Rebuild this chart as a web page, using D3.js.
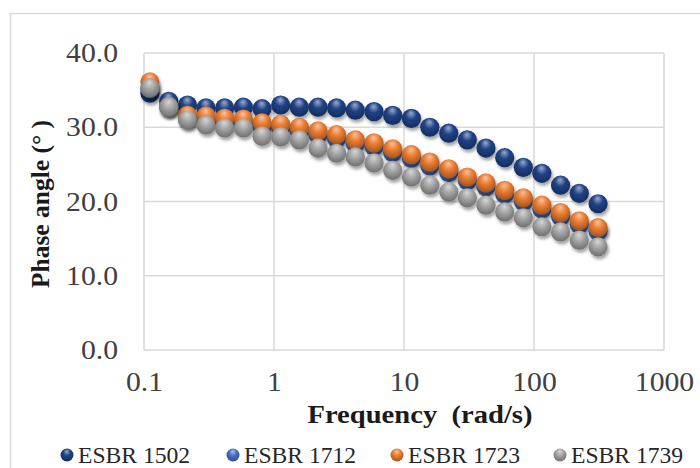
<!DOCTYPE html>
<html>
<head>
<meta charset="utf-8">
<script src="https://cdn.jsdelivr.net/npm/d3@7"></script>
<style>
  body { margin: 0; background: #fff; }
  svg { display: block; font-family: "Liberation Serif", "Times New Roman", serif; }
</style>
</head>
<body>
<div id="chart"></div>
<script>
// frequencies (rad/s)
var freq = [0.111, 0.155, 0.216, 0.300, 0.417, 0.581, 0.809, 1.125, 1.566, 2.18,
            3.03, 4.22, 5.88, 8.18, 11.4, 15.8, 22.1, 30.7, 42.7, 59.5,
            82.8, 115, 160, 223, 311];

var esbr1502 = [34.6, 33.5, 33.0, 32.6, 32.6, 32.7, 32.5, 33.0, 32.7, 32.7,
                32.6, 32.3, 32.1, 31.6, 31.2, 30.0, 29.2, 28.3, 27.2, 25.9,
                24.6, 23.8, 22.2, 21.1, 19.7];
var esbr1712 = [35.2, 32.8, 31.2, 31.0, 30.7, 30.6, 30.1, 29.9, 29.5, 29.0,
                28.5, 27.8, 27.4, 26.6, 25.8, 24.8, 23.9, 22.8, 22.0, 21.0,
                20.0, 19.0, 18.0, 16.9, 16.0];
var esbr1723 = [36.1, 32.8, 31.6, 31.5, 31.2, 31.1, 30.6, 30.4, 30.0, 29.5,
                29.0, 28.3, 27.9, 27.1, 26.3, 25.3, 24.4, 23.3, 22.5, 21.5,
                20.5, 19.5, 18.5, 17.4, 16.5];
var esbr1739 = [35.3, 32.7, 31.0, 30.3, 29.9, 29.9, 28.8, 28.7, 28.3, 27.2,
                26.5, 26.0, 25.2, 24.2, 23.3, 22.2, 21.3, 20.5, 19.5, 18.6,
                17.8, 16.6, 15.9, 14.8, 13.9];

var seriesNames = ["ESBR 1502", "ESBR 1712", "ESBR 1723", "ESBR 1739"];
var seriesValues = [esbr1502, esbr1712, esbr1723, esbr1739];
var seriesColors = ["#1f4287", "#4472c4", "#ed7d31", "#a5a5a5"];

var xTicks = [0.1, 1, 10, 100, 1000];
var yTicks = [0, 10, 20, 30, 40];

var W = 700, H = 468;
var margin = {top: 53, right: 36, bottom: 118, left: 144};
var width = 664 - margin.left, height = 350 - margin.top;
var stretch = 1.1; // the source picture is a little wider than tall

var svg = d3.select("#chart").append("svg")
    .attr("width", W)
    .attr("height", H);

// outer chart border (runs off the right and bottom edge)
svg.append("rect")
    .attr("x", 10.5).attr("y", 13.5)
    .attr("width", 720).attr("height", 480)
    .attr("fill", "none")
    .attr("stroke", "#d9d9d9")
    .attr("stroke-width", 1.5);

var defs = svg.append("defs");

var shadow = defs.append("filter").attr("id", "shadow")
    .attr("x", "-50%").attr("y", "-50%").attr("width", "200%").attr("height", "200%");
shadow.append("feDropShadow")
    .attr("dx", 1.5).attr("dy", 3).attr("stdDeviation", 1.8)
    .attr("flood-color", "#000").attr("flood-opacity", 0.35);

seriesColors.forEach(function(col, i) {
    var g = defs.append("radialGradient")
        .attr("id", "ball" + i)
        .attr("cx", "50%").attr("cy", "38%").attr("r", "62%")
        .attr("fx", "48%").attr("fy", "22%");
    var c = d3.color(col);
    g.append("stop").attr("offset", "0%").attr("stop-color", d3.interpolateRgb(col, "#fff")(0.55));
    g.append("stop").attr("offset", "45%").attr("stop-color", col);
    g.append("stop").attr("offset", "100%").attr("stop-color", c.darker(1.1));
});

var plot = svg.append("g")
    .attr("transform", "translate(" + margin.left + "," + margin.top + ")");

var x = d3.scaleLog().domain([0.1, 1000]).range([0, width]);
var y = d3.scaleLinear().domain([0, 40]).range([height, 0]);

// gridlines
plot.append("g").selectAll("line.h")
    .data(yTicks).enter().append("line")
    .attr("x1", 0).attr("x2", width)
    .attr("y1", function(d){ return y(d); })
    .attr("y2", function(d){ return y(d); })
    .attr("stroke", "#d9d9d9").attr("stroke-width", 1.5);

plot.append("g").selectAll("line.v")
    .data(xTicks).enter().append("line")
    .attr("y1", 0).attr("y2", height)
    .attr("x1", function(d){ return x(d); })
    .attr("x2", function(d){ return x(d); })
    .attr("stroke", "#d9d9d9").attr("stroke-width", 1.5);

// axes (labels only)
var yAxis = plot.append("g")
    .call(d3.axisLeft(y).tickValues(yTicks).tickFormat(d3.format(".1f")).tickSize(0).tickPadding(0));
var xAxis = plot.append("g")
    .attr("transform", "translate(0," + height + ")")
    .call(d3.axisBottom(x).tickValues(xTicks).tickFormat(function(d){ return String(d); }).tickSize(0).tickPadding(22));

[yAxis, xAxis].forEach(function(a) {
    a.select(".domain").remove();
    a.selectAll("text")
        .style("font-family", "'Liberation Serif', 'Times New Roman', serif")
        .style("font-size", "27px")
        .attr("fill", "#404040");
});
yAxis.selectAll("text")
    .attr("x", 0)
    .attr("transform", "translate(-26,0) scale(" + stretch + ",1)");
xAxis.selectAll("text")
    .attr("transform", "scale(" + stretch + ",1)");

// series
seriesValues.forEach(function(vals, s) {
    plot.append("g")
        .attr("filter", "url(#shadow)")
        .selectAll("circle")
        .data(vals).enter().append("circle")
        .attr("cx", function(d, i){ return x(freq[i]); })
        .attr("cy", function(d){ return y(d); })
        .attr("r", 9.6)
        .attr("fill", "url(#ball" + s + ")");
});

// axis titles
svg.append("text")
    .attr("transform", "translate(420,423) scale(" + stretch + ",1)")
    .attr("text-anchor", "middle")
    .style("font-size", "26px").style("font-weight", "bold")
    .attr("fill", "#1a1a1a")
    .attr("xml:space", "preserve")
    .text("Frequency  (rad/s)");

svg.append("text")
    .attr("transform", "translate(49,204) rotate(-90)")
    .attr("text-anchor", "middle")
    .style("font-size", "25.5px").style("font-weight", "bold")
    .attr("fill", "#1a1a1a")
    .text("Phase angle (° )");

// legend
var legendX = [67, 233, 397, 560];
var legend = svg.append("g").selectAll("g")
    .data(seriesNames).enter().append("g")
    .attr("transform", function(d, i){ return "translate(" + legendX[i] + ",455)"; });

legend.append("circle")
    .attr("r", 6.5)
    .attr("fill", function(d, i){ return "url(#ball" + i + ")"; });

legend.append("text")
    .attr("transform", "translate(11,8) scale(1.05,1)")
    .style("font-size", "22.5px")
    .attr("fill", "#262626")
    .text(function(d){ return d; });
</script>
</body>
</html>
